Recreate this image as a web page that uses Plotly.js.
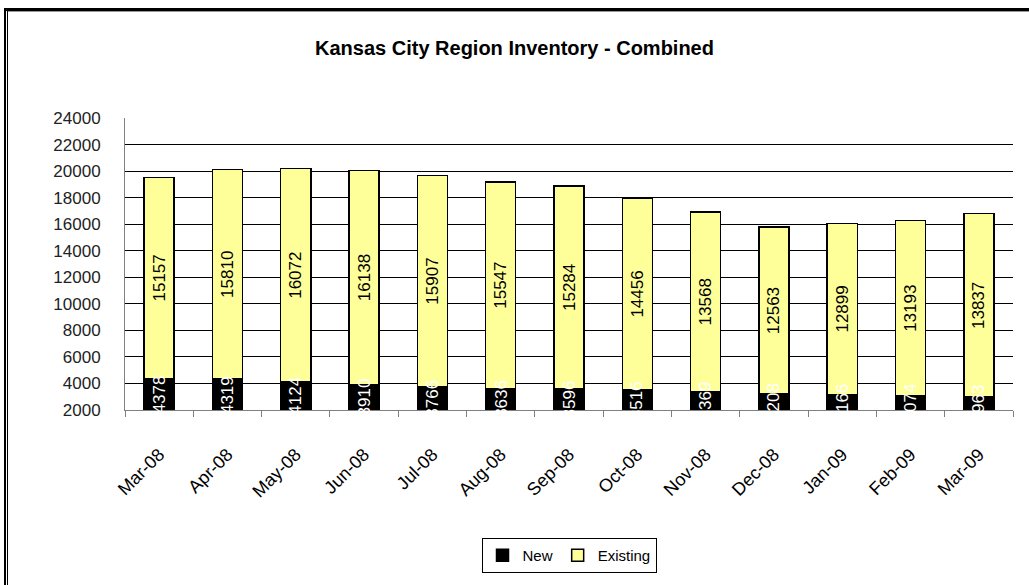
<!DOCTYPE html>
<html>
<head>
<meta charset="utf-8">
<script src="https://cdn.plot.ly/plotly-3.0.1.min.js"></script>
<style>
  html, body { margin: 0; padding: 0; background: #fff; }
  #wrap { position: relative; width: 1029px; height: 585px; overflow: hidden; }
  #chart { position: absolute; left: 0; top: 0; width: 1029px; height: 585px; }
  .ln { position: absolute; }
</style>
</head>
<body>
<div id="wrap">
  <div id="chart"></div>
  <div class="ln" style="left:4px; top:8px; width:1025px; height:3px; background:#000;"></div>
  <div class="ln" style="left:7px; top:11px; width:1022px; height:1px; background:#999;"></div>
  <div class="ln" style="left:4px; top:8px; width:2px; height:577px; background:#000;"></div>
  <div class="ln" style="left:7px; top:11px; width:1px; height:574px; background:#000;"></div>
</div>
<script>
const months = ["Mar-08","Apr-08","May-08","Jun-08","Jul-08","Aug-08","Sep-08","Oct-08","Nov-08","Dec-08","Jan-09","Feb-09","Mar-09"];
const newHomes = [4378, 4319, 4124, 3910, 3766, 3636, 3596, 3516, 3369, 3208, 3166, 3074, 2963];
const existingHomes = [15157, 15810, 16072, 16138, 15907, 15547, 15284, 14456, 13568, 12563, 12899, 13193, 13837];
const yTicks = [2000, 4000, 6000, 8000, 10000, 12000, 14000, 16000, 18000, 20000, 22000, 24000];

const yMin = yTicks[0], yMax = yTicks[yTicks.length - 1];
const FONT = "Liberation Sans, Arial, sans-serif";

const traceNew = {
  type: "bar", name: "New", x: months, y: newHomes,
  marker: { color: "#000000", line: { color: "#000000", width: 1.5 } },
  textposition: "none", hoverinfo: "x+y"
};
const traceExisting = {
  type: "bar", name: "Existing", x: months, y: existingHomes,
  text: existingHomes.map(String), textposition: "inside", insidetextanchor: "middle",
  textangle: -90, constraintext: "none",
  insidetextfont: { family: FONT, size: 17, color: "#000000" },
  marker: { color: "#FFFF99", line: { color: "#000000", width: 1.5 } },
  hoverinfo: "x+y"
};

// labels for the New segment, centred in its visible part (axis starts above zero)
const newLabels = months.map((m, i) => ({
  x: m, y: (yMin + newHomes[i]) / 2, xref: "x", yref: "y",
  text: String(newHomes[i]), showarrow: false, textangle: -90,
  font: { family: FONT, size: 17, color: "#ffffff" }
}));

const layout = {
  width: 1029, height: 585,
  margin: { l: 125, r: 16, t: 118, b: 172 },
  paper_bgcolor: "#ffffff", plot_bgcolor: "#ffffff",
  barmode: "stack", bargap: 0.56,
  font: { family: FONT, color: "#000" },
  title: { text: "Kansas City Region Inventory - Combined", x: 0.5, xref: "container", xanchor: "center",
           y: 1 - 48/585, yref: "container", yanchor: "middle",
           font: { family: FONT, size: 20, color: "#000", weight: "bold" } },
  xaxis: {
    type: "category", tickangle: -45, tickson: "boundaries",
    ticks: "outside", ticklen: 6, tickcolor: "#808080", tickwidth: 1,
    showline: true, linecolor: "#808080", linewidth: 1,
    showgrid: false, tickfont: { family: FONT, size: 18, color: "#000" },
    ticklabelstandoff: 26
  },
  yaxis: {
    range: [yMin, yMax], tickvals: yTicks, ticktext: yTicks.map(String),
    showline: true, linecolor: "#808080", linewidth: 1,
    ticks: "", showgrid: true, gridcolor: "#000000", gridwidth: 1,
    zeroline: false, tickfont: { family: FONT, size: 17, color: "#222" },
    ticklabelstandoff: 20
  },
  showlegend: true,
  legend: { orientation: "h", x: 0.5, xanchor: "center", y: -0.498, yanchor: "middle",
            bordercolor: "#000", borderwidth: 1, bgcolor: "#fff",
            font: { family: FONT, size: 15, color: "#000" }, traceorder: "normal" },
  annotations: newLabels
};

Plotly.newPlot("chart", [traceNew, traceExisting], layout, { displayModeBar: false, staticPlot: true });
</script>
</body>
</html>
